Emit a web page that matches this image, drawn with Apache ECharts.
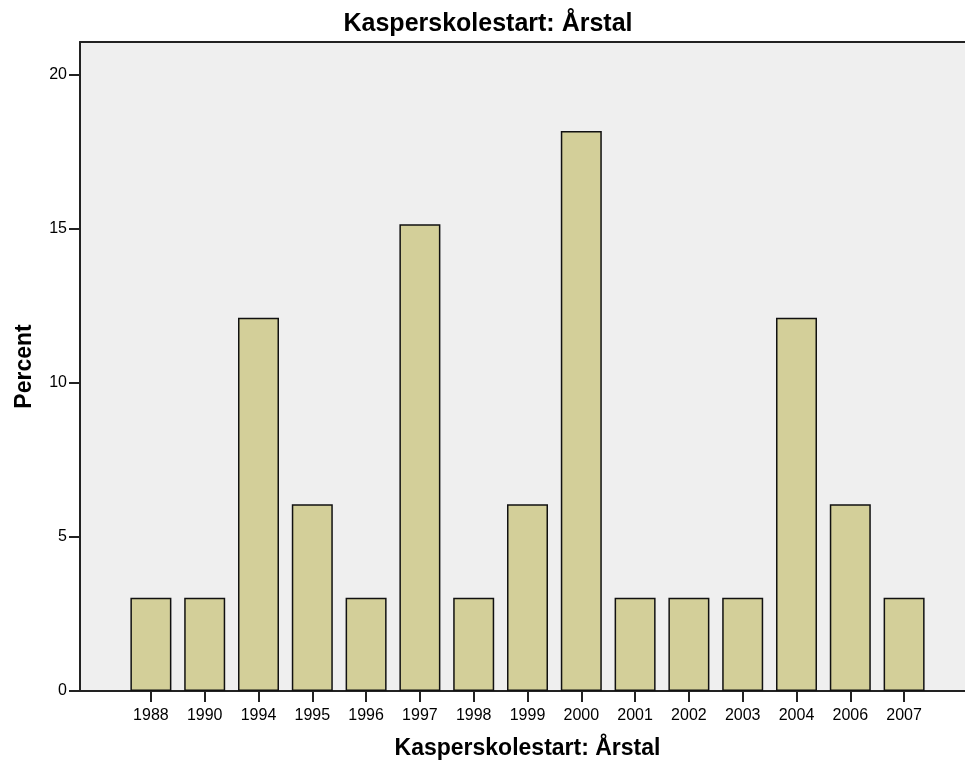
<!DOCTYPE html>
<html>
<head>
<meta charset="utf-8">
<script src="https://cdn.jsdelivr.net/npm/echarts@6/dist/echarts.min.js"></script>
<style>
  html, body { margin: 0; padding: 0; background: #fff; }
  #chart { width: 965px; height: 766px; }
</style>
</head>
<body>
<div id="chart"></div>
<script>
// year categories and percent values
const years = ['1988', '1990', '1994', '1995', '1996', '1997', '1998', '1999', '2000', '2001', '2002', '2003', '2004', '2006', '2007'];
const percents = [3.03, 3.03, 12.12, 6.06, 3.03, 15.15, 3.03, 6.06, 18.18, 3.03, 3.03, 3.03, 12.12, 6.06, 3.03];
const yMax = 21.07;

const font = 'Liberation Sans, Arial, sans-serif';
const chart = echarts.init(document.getElementById('chart'));

const option = {
  animation: false,
  title: {
    text: 'Kasperskolestart: Årstal',
    left: 483, top: 7, textAlign: 'center',
    textStyle: { fontFamily: font, fontSize: 25, fontWeight: 'bold', color: '#000' }
  },
  grid: [
    // frame with grey background
    { left: 80, right: 0, top: 42, bottom: 75, show: true, backgroundColor: '#efefef', borderWidth: 0, outerBoundsMode: 'none' },
    // bars
    { left: 124, right: 34, top: 42, bottom: 75, outerBoundsMode: 'none' }
  ],
  xAxis: [
    { gridIndex: 0, type: 'value', position: 'top', min: 0, max: 1,
      axisLine: { show: true, onZero: false, lineStyle: { color: '#222', width: 2 } },
      axisTick: { show: false }, axisLabel: { show: false }, splitLine: { show: false } },
    { gridIndex: 0, type: 'value', position: 'bottom', min: 0, max: 1,
      axisLine: { show: true, onZero: false, lineStyle: { color: '#222', width: 2 } },
      axisTick: { show: false }, axisLabel: { show: false }, splitLine: { show: false } },
    { gridIndex: 1, type: 'category', data: years, position: 'bottom',
      name: 'Kasperskolestart: Årstal', nameLocation: 'middle', nameGap: 46,
      nameTextStyle: { fontFamily: font, fontSize: 23, fontWeight: 'bold', color: '#000' },
      axisLine: { show: false, onZero: false },
      axisTick: { show: true, alignWithLabel: true, length: 11, lineStyle: { color: '#222', width: 2 } },
      axisLabel: { fontFamily: font, fontSize: 16, color: '#000', margin: 17 } }
  ],
  yAxis: [
    { gridIndex: 0, type: 'value', min: 0, max: yMax, interval: 5,
      name: 'Percent', nameLocation: 'middle', nameGap: 44,
      nameTextStyle: { fontFamily: font, fontSize: 23, fontWeight: 'bold', color: '#000' },
      axisLine: { show: true, onZero: false, lineStyle: { color: '#222', width: 2 } },
      axisTick: { show: true, length: 11, lineStyle: { color: '#222', width: 2 } },
      axisLabel: { fontFamily: font, fontSize: 16, color: '#000', margin: 13,
        showMaxLabel: false },
      splitLine: { show: false } },
    { gridIndex: 1, type: 'value', min: 0, max: yMax, show: false }
  ],
  series: [{
    type: 'bar',
    xAxisIndex: 2, yAxisIndex: 1,
    data: percents,
    barWidth: 41,
    itemStyle: { color: '#d3cf99', borderColor: '#111', borderWidth: 1.5 }
  }]
};

chart.setOption(option);
</script>
</body>
</html>
